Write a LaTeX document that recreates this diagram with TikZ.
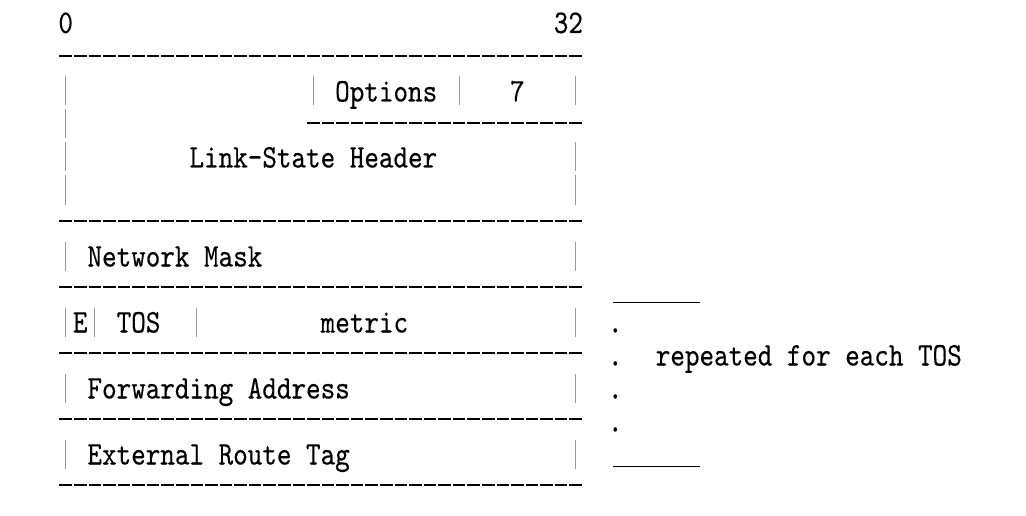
\documentclass[tikz,border=0pt]{standalone}
\usepackage{fontspec}
\usepackage{graphicx}
\newfontfamily\asciimono{lmmono10-regular.otf}[FakeBold=0.3]
\definecolor{barcol}{RGB}{165,150,155}
\newcommand\hsq[1]{\scalebox{0.841}[1]{#1}}
\begin{document}
\begin{tikzpicture}[x=1pt,y=-1pt,
  txt/.style={inner sep=0pt, outer sep=0pt, anchor=base west, font=\fontsize{33}{35}\selectfont\asciimono},
  bar/.style={draw=barcol, line width=1.1pt},
  rule/.style={draw=black, line width=1.6pt, dash pattern=on 12.57pt off 2pt},
  under/.style={draw=black, line width=1.4pt}]
\useasboundingbox[fill=white] (0,0) rectangle (1026,516);
% separator rows of dashes
\foreach \k in {1,6,8,10,12,14}
  \draw[rule] (59.4,{33*\k+23}) -- (582.5,{33*\k+23});
\draw[rule] (307.1,123) -- (582.5,123);
% vertical bars
\foreach \c/\k in {0/2,17/2,27/2,35/2,0/3,0/4,35/4,0/5,35/5,0/7,35/7,0/9,2/9,9/9,35/9,0/11,35/11,0/13,35/13}
  \draw[bar] ({58.4+(\c+0.5)*14.57},{33*\k+25-14.5}) -- ++(0,29);
% texts
\node[txt] (n0) at (58.4,33) {\hsq{0}};
\node[txt] (n32) at (553.8,33) {\hsq{32}};
\node[txt] (opt) at (335.2,101.5) {\hsq{Options}};
\node[txt] (seven) at (510.1,101.5) {\hsq{7}};
\node[txt] (lsh) at (189.5,167.5) {\hsq{Link-State Header}};
\node[txt] (mask) at (87.5,266.5) {\hsq{Network Mask}};
\node[txt] (e) at (73.0,332.5) {\hsq{E}};
\node[txt] (tos) at (116.7,332.5) {\hsq{TOS}};
\node[txt] (metric) at (320.7,332.5) {\hsq{metric}};
\node[txt] (fwd) at (87.5,398.5) {\hsq{Forwarding Address}};
\node[txt] (tag) at (87.5,464.5) {\hsq{External Route Tag}};
% repeated block
\draw[under] (613,302.5) -- (700,302.5);
\draw[under] (613,466.5) -- (700,466.5);
\node[txt] (d1) at (608,332.5) {\hsq{.}};
\node[txt] (d2) at (608,365.5) {\hsq{.}};
\node[txt] (d3) at (608,398.5) {\hsq{.}};
\node[txt] (d4) at (608,431.5) {\hsq{.}};
\node[txt] (rep) at (655.8,365.5) {\hsq{repeated for each TOS}};
\end{tikzpicture}
\end{document}
